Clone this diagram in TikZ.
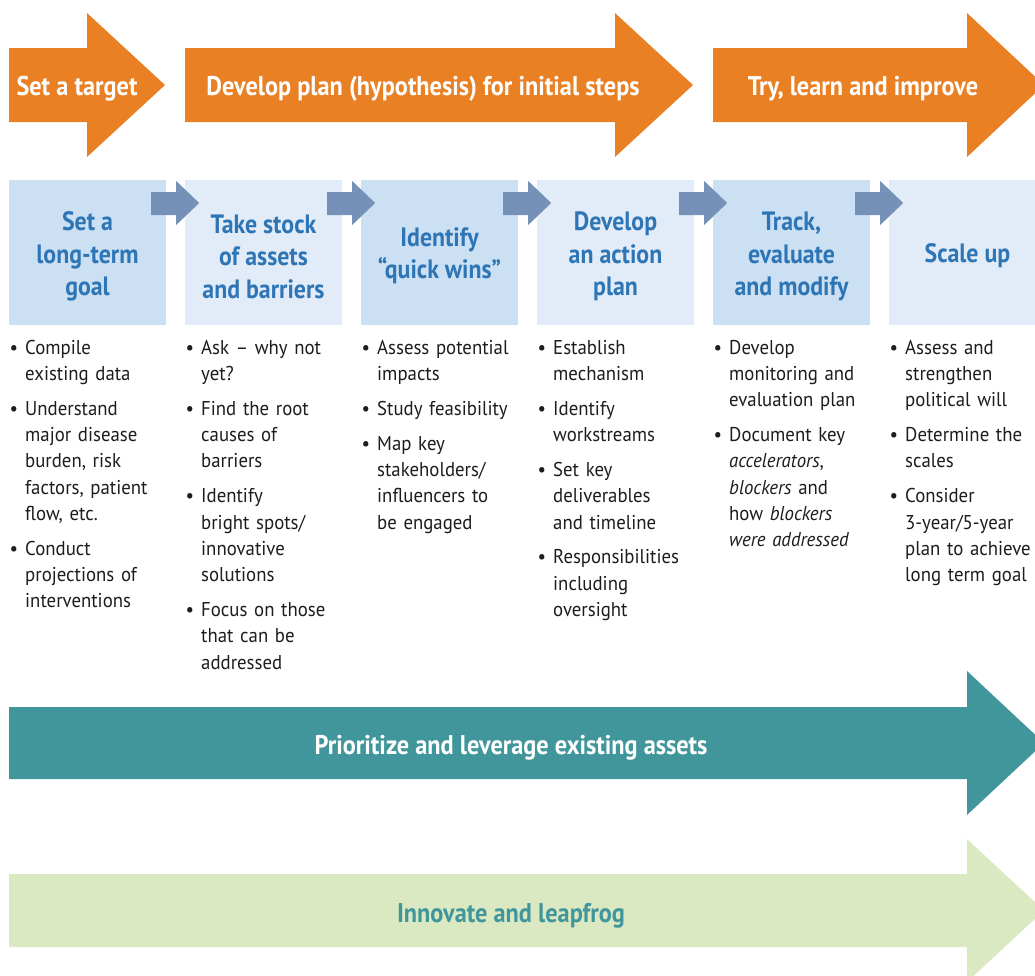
\documentclass[tikz,border=0pt]{standalone}
\usepackage{fontspec}
\setmainfont[FakeStretch=0.94]{PT Sans}
\newfontfamily\headfont[FakeStretch=0.9]{PT Sans}
\usetikzlibrary{calc}
\definecolor{orangeA}{HTML}{E98024}
\definecolor{boxdark}{HTML}{CCE0F4}
\definecolor{boxlight}{HTML}{E2ECF8}
\definecolor{titleblue}{HTML}{2E75B6}
\definecolor{smallarrow}{HTML}{7591B8}
\definecolor{tealA}{HTML}{40969B}
\definecolor{greenA}{HTML}{DBE9C3}
\definecolor{bodytext}{HTML}{1E1C1D}
\newcommand\smallarr[1]{%
  \fill[smallarrow] ($(#1.east)+(-15,-60.5)$) -- ($(#1.east)+(10,-60.5)$) -- ($(#1.east)+(10,-71.5)$)
    -- ($(#1.east)+(33,-49.5)$) -- ($(#1.east)+(10,-27.5)$) -- ($(#1.east)+(10,-37.5)$)
    -- ($(#1.east)+(-15,-37.5)$) -- cycle;}
\newcommand\bul[1]{\hangindent=13pt\hangafter=0\noindent\strut\llap{\textbullet\hspace{7pt}}#1\strut\par}
\begin{document}
\begin{tikzpicture}[x=1pt,y=-1pt,
  stepbox/.style={minimum width=157pt, minimum height=145pt, inner sep=0pt},
  steptitle/.style={inner sep=0pt, align=center,
    font=\headfont\fontsize{26.5}{32.5}\selectfont\bfseries, text=titleblue},
  arrowlabel/.style={font=\headfont\fontsize{27}{30}\selectfont\bfseries, text=white, inner sep=0pt},
  bulletcol/.style={anchor=north west, inner sep=0pt, text width=175pt, align=left,
    font=\fontsize{20}{26.3}\selectfont, text=bodytext},
]
\useasboundingbox (0,0) rectangle (1035,975);
\clip (0,0) rectangle (1035,975);

% top orange arrows
\fill[orangeA] (9,48) -- (87,48) -- (87,13) -- (165,85) -- (87,157) -- (87,122) -- (9,122) -- cycle;
\fill[orangeA] (185,48) -- (615,48) -- (615,13) -- (693,85) -- (615,157) -- (615,122) -- (185,122) -- cycle;
\fill[orangeA] (713,48) -- (967,48) -- (967,13) -- (1044,85) -- (967,157) -- (967,122) -- (713,122) -- cycle;
\node[arrowlabel] (t1) at (77,89) {Set a target};
\node[arrowlabel] (t2) at (423,89) {Develop plan (hypothesis) for initial steps};
\node[arrowlabel] (t3) at (863,89) {Try, learn and improve};

% step boxes
\node[stepbox, fill=boxdark]  (b1) at (87.5,252.5)  {};
\node[stepbox, fill=boxlight] (b2) at (263.5,252.5) {};
\node[stepbox, fill=boxdark]  (b3) at (439.5,252.5) {};
\node[stepbox, fill=boxlight] (b4) at (615.5,252.5) {};
\node[stepbox, fill=boxdark]  (b5) at (791.5,252.5) {};
\node[stepbox, fill=boxlight] (b6) at (967.5,252.5) {};
\node[steptitle] (b1t) at ($(b1.center)+(0,4)$) {Set a\\long-term\\goal};
\node[steptitle] (b2t) at ($(b2.center)+(0,4)$) {Take stock\\of assets\\and barriers};
\node[steptitle] (b3t) at ($(b3.center)+(0,3)$) {Identify\\“quick wins”};
\node[steptitle] (b4t) at ($(b4.center)+(0,4)$) {Develop\\an action\\plan};
\node[steptitle] (b5t) at ($(b5.center)+(0,4)$) {Track,\\evaluate\\and modify};
\node[steptitle] (b6t) at ($(b6.center)+(0,3)$) {Scale up};
\smallarr{b1}\smallarr{b2}\smallarr{b3}\smallarr{b4}\smallarr{b5}

% bullet columns
\node[bulletcol] (c1) at (12,335.6) {\parskip=8.5pt
  \bul{Compile\newline existing data}
  \bul{Understand\newline major disease\newline burden, risk\newline factors, patient\newline flow, etc.}
  \bul{Conduct\newline projections of\newline interventions}};
\node[bulletcol] (c2) at (188,335.6) {\parskip=8.5pt
  \bul{Ask -- why not\newline yet?}
  \bul{Find the root\newline causes of\newline barriers}
  \bul{Identify\newline bright spots/\newline innovative\newline solutions}
  \bul{Focus on those\newline that can be\newline addressed}};
\node[bulletcol] (c3) at (364,335.6) {\parskip=8.5pt
  \bul{Assess potential\newline impacts}
  \bul{Study feasibility}
  \bul{Map key\newline stakeholders/\newline influencers to\newline be engaged}};
\node[bulletcol] (c4) at (540,335.6) {\parskip=8.5pt
  \bul{Establish\newline mechanism}
  \bul{Identify\newline workstreams}
  \bul{Set key\newline deliverables\newline and timeline}
  \bul{Responsibilities\newline including\newline oversight}};
\node[bulletcol] (c5) at (716,335.6) {\parskip=8.5pt
  \bul{Develop\newline monitoring and\newline evaluation plan}
  \bul{Document key\newline \textit{accelerators},\newline \textit{blockers} and\newline how \textit{blockers}\newline \textit{were addressed}}};
\node[bulletcol] (c6) at (892,335.6) {\parskip=8.5pt
  \bul{Assess and\newline strengthen\newline political will}
  \bul{Determine the\newline scales}
  \bul{Consider\newline 3-year/5-year\newline plan to achieve\newline long term goal}};

% bottom arrows
\fill[tealA] (9,707) -- (967,707) -- (967,671) -- (1044,743) -- (967,815) -- (967,779) -- (9,779) -- cycle;
\fill[greenA] (9,874) -- (967,874) -- (967,839) -- (1044,910.5) -- (967,982) -- (967,947) -- (9,947) -- cycle;
\node[arrowlabel] (p1) at (511,747.5) {Prioritize and leverage existing assets};
\node[arrowlabel, text=tealA] (p2) at (511,915.5) {Innovate and leapfrog};
\end{tikzpicture}
\end{document}
